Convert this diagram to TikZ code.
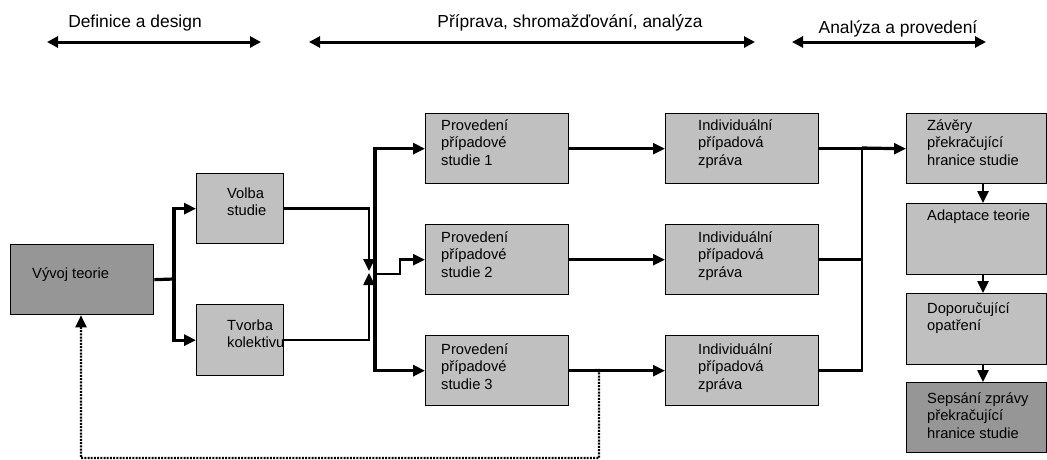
\documentclass[tikz,border=0pt]{standalone}
\usepackage{fontspec}
\setmainfont{Liberation Sans}
\usetikzlibrary{arrows.meta}
\definecolor{boxlight}{HTML}{C0C0C0}
\definecolor{boxdark}{HTML}{969696}
% strut that fixes the height of a label's first line
\newcommand{\firstrow}{\rule{0pt}{13pt}}

\begin{document}
\begin{tikzpicture}[x=1pt,y=-1pt,
  box/.style={draw=black, line width=1.3pt, fill=boxlight, anchor=north west,
    inner sep=0pt, minimum width=#1},
  box/.default=143pt,
  darkbox/.style={box=#1, fill=boxdark},
  darkbox/.default=143pt,
  txt/.style={anchor=north west, inner sep=0pt, align=left,
    font=\fontsize{14.7}{17.6}\selectfont},
  phase/.style={anchor=base, inner sep=0pt, font=\fontsize{17.4}{20}\selectfont},
  tip/.style={-{Triangle[length=12pt,width=11pt]}},
  arr/.style={line width=2.5pt, tip},
  wire/.style={line width=2.5pt},
  heavy/.style={line width=3.2pt},
  dbl/.style={line width=3pt,
    {Triangle[length=11pt,width=11pt]}-{Triangle[length=11pt,width=11pt]}},
  feedback/.style={line width=2.2pt, dash pattern=on 2pt off 1.2pt,
    -{Triangle[length=12pt,width=11pt]}}
]
\useasboundingbox (0,0) rectangle (1047,459);

% phase arrows along the top
\coordinate (p1l) at (47,42);  \coordinate (p1r) at (261,42);
\coordinate (p2l) at (309,42); \coordinate (p2r) at (755,42);
\coordinate (p3l) at (792,42); \coordinate (p3r) at (986,42);
\draw[dbl] (p1l) -- (p1r);
\draw[dbl] (p2l) -- (p2r);
\draw[dbl] (p3l) -- (p3r);
\node[phase] (ph1) at (135,27) {Definice a design};
\node[phase] (ph2) at (570,27) {Příprava, shromažďování, analýza};
\node[phase] (ph3) at (898,33) {Analýza a provedení};

% boxes
\node[darkbox, minimum height=70pt] (vyvoj) at (10,244) {};
\node[box=87pt, minimum height=70pt] (volba) at (196,173) {};
\node[box=87pt, minimum height=71pt] (tvorba) at (196,304) {};

\node[box, minimum height=70pt] (prov1) at (425,113) {};
\node[box, minimum height=70pt] (prov2) at (425,224) {};
\node[box, minimum height=70pt] (prov3) at (425,335) {};

\node[box=153pt, minimum height=70pt] (ind1) at (665,113) {};
\node[box=153pt, minimum height=70pt] (ind2) at (665,224) {};
\node[box=153pt, minimum height=70pt] (ind3) at (665,335) {};

\node[box=140pt, minimum height=70pt] (zaver) at (906,113) {};
\node[box=140pt, minimum height=71pt] (adapt) at (906,203) {};
\node[box=140pt, minimum height=71pt] (dopor) at (906,293) {};
\node[darkbox=140pt, minimum height=70pt] (seps) at (906,382) {};

% box labels (first baseline 13pt below the given point)
\node[txt] (vyvoj-t) at (32,265) {\firstrow Vývoj teorie};
\node[txt] (volba-t) at (227,185) {\firstrow Volba\\studie};
\node[txt] (tvorba-t) at (227,317) {\firstrow Tvorba\\kolektivu};

\node[txt] (prov1-t) at (441,117) {\firstrow Provedení\\případové\\studie 1};
\node[txt] (prov2-t) at (441,229) {\firstrow Provedení\\případové\\studie 2};
\node[txt] (prov3-t) at (441,341) {\firstrow Provedení\\případové\\studie 3};

\node[txt] (ind1-t) at (698,117) {\firstrow Individuální\\případová\\zpráva};
\node[txt] (ind2-t) at (698,229) {\firstrow Individuální\\případová\\zpráva};
\node[txt] (ind3-t) at (698,341) {\firstrow Individuální\\případová\\zpráva};

\node[txt] (zaver-t) at (927,117) {\firstrow Závěry\\překračující\\hranice studie};
\node[txt] (adapt-t) at (927,207) {\firstrow Adaptace teorie};
\node[txt] (dopor-t) at (927,300) {\firstrow Doporučující\\opatření};
\node[txt] (seps-t) at (927,390) {\firstrow Sepsání zprávy\\překračující\\hranice studie};

% theory development splits into study choice and team building
\coordinate (split) at (174,279);
\draw[heavy] (vyvoj.east) -- (split);
\draw[heavy, tip] (split) |- (volba.west);
\draw[heavy, tip] (split) |- (tvorba.west);

% both feed the meeting point
\coordinate (meetdown) at (369,271);
\coordinate (meetup) at (369,273);
\draw[arr] (volba.east) -| (meetdown);
\draw[arr] (tvorba.east) -| (meetup);

% distribution to the three case studies
\coordinate (hub) at (375,274);
\coordinate (jog) at (400,274);
\draw[heavy, tip] (hub) |- (prov1.west);
\draw[heavy, tip] (hub) |- (prov3.west);
\draw[arr] (hub) -- (jog) |- (prov2.west);

% case studies to individual reports
\draw[arr] (prov1.east) -- (ind1.west);
\draw[arr] (prov2.east) -- (ind2.west);
\draw[arr] (prov3.east) -- (ind3.west);

% reports collected into the cross-case conclusions
\coordinate (bus) at (862,148);
\draw[arr] (ind1.east) -- (zaver.west);
\draw[heavy] (bus) -- ([xshift=-8pt]zaver.west);
\draw[wire] (ind3.east) -| (bus);
\draw[wire] (ind2.east) -- (ind2.east -| bus);

% right-hand column
\coordinate (col) at (983,0);
\draw[arr] (zaver.south -| col) -- (adapt.north -| col);
\draw[arr] (adapt.south -| col) -- (dopor.north -| col);
\draw[arr] (dopor.south -| col) -- (seps.north -| col);

% feedback loop to theory development
\coordinate (fb1) at (599,370);
\coordinate (fb2) at (81,458);
\draw[feedback] (prov3.east) -- (fb1) |- (fb2) -- (fb2 |- vyvoj.south);
\end{tikzpicture}
\end{document}
